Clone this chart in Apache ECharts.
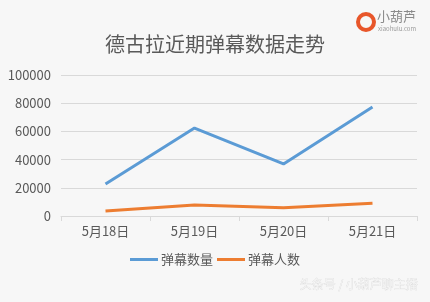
<!DOCTYPE html>
<html><head><meta charset="utf-8">
<script src="https://cdn.jsdelivr.net/npm/echarts@6/dist/echarts.min.js"></script>
<style>html,body{margin:0;padding:0;background:#f7f7f7}#c{width:430px;height:302px}</style>
</head><body><div id="c"></div>
<script>
const categories = ['5月18日','5月19日','5月20日','5月21日'];
const danmuCount = [22700, 62400, 36900, 77300];
const danmuUsers = [3500, 7800, 5900, 9000];
const yTicks = [0, 20000, 40000, 60000, 80000, 100000];

const chart = echarts.init(document.getElementById('c'), null, {renderer:'canvas'});
const font = '"Microsoft YaHei","Noto Sans CJK SC",sans-serif';
chart.setOption({
  backgroundColor:'#f7f7f7',
  animation:false,
  title:{text:'德古拉近期弹幕数据走势',left:'center',top:29,
    textStyle:{fontFamily:font,fontSize:20,fontWeight:'normal',color:'#595959'}},
  graphic:[
    {type:'text',right:14,top:10,style:{text:'小葫芦',fontFamily:font,fontSize:13,fill:'#8a8a8a'}},
    {type:'text',right:14,top:26,style:{text:'xiaohulu.com',fontFamily:font,fontSize:6,fill:'#9a9a9a'}},
    {type:'circle',shape:{cx:366,cy:22,r:8},style:{fill:'none',stroke:'#e8562a',lineWidth:4}},
    {type:'text',right:12,top:278,style:{text:'头条号 / 小葫芦聊主播',fontFamily:font,fontSize:12,fill:'#f4f4f4',stroke:'#d0d0d0',lineWidth:0.4}}
  ],
  legend:{bottom:31,left:'center',itemWidth:28,itemHeight:3,itemGap:4,
    icon:'rect',
    textStyle:{fontFamily:font,fontSize:13,color:'#595959',padding:[0,0,0,-2]},
    data:['弹幕数量','弹幕人数']},
  grid:{left:61,right:13,top:75,bottom:86,containLabel:false},
  xAxis:{type:'category',data:categories,boundaryGap:true,
    axisLine:{lineStyle:{color:'#d9d9d9'}},
    axisTick:{show:true,length:5,lineStyle:{color:'#d9d9d9'}},
    axisLabel:{fontFamily:font,fontSize:13,color:'#595959',margin:9}},
  yAxis:{type:'value',min:yTicks[0],max:yTicks[yTicks.length-1],interval:20000,
    axisLine:{show:false},axisTick:{show:false},
    splitLine:{lineStyle:{color:'#d9d9d9'}},
    axisLabel:{fontFamily:font,fontSize:13,color:'#595959',margin:10,formatter:v=>String(v)}},
  series:[
    {name:'弹幕数量',type:'line',data:danmuCount,symbol:'none',
      lineStyle:{width:3,color:'#5b9bd5'},itemStyle:{color:'#5b9bd5'}},
    {name:'弹幕人数',type:'line',data:danmuUsers,symbol:'none',
      lineStyle:{width:3,color:'#ed7d31'},itemStyle:{color:'#ed7d31'}}
  ]
});
</script></body></html>
